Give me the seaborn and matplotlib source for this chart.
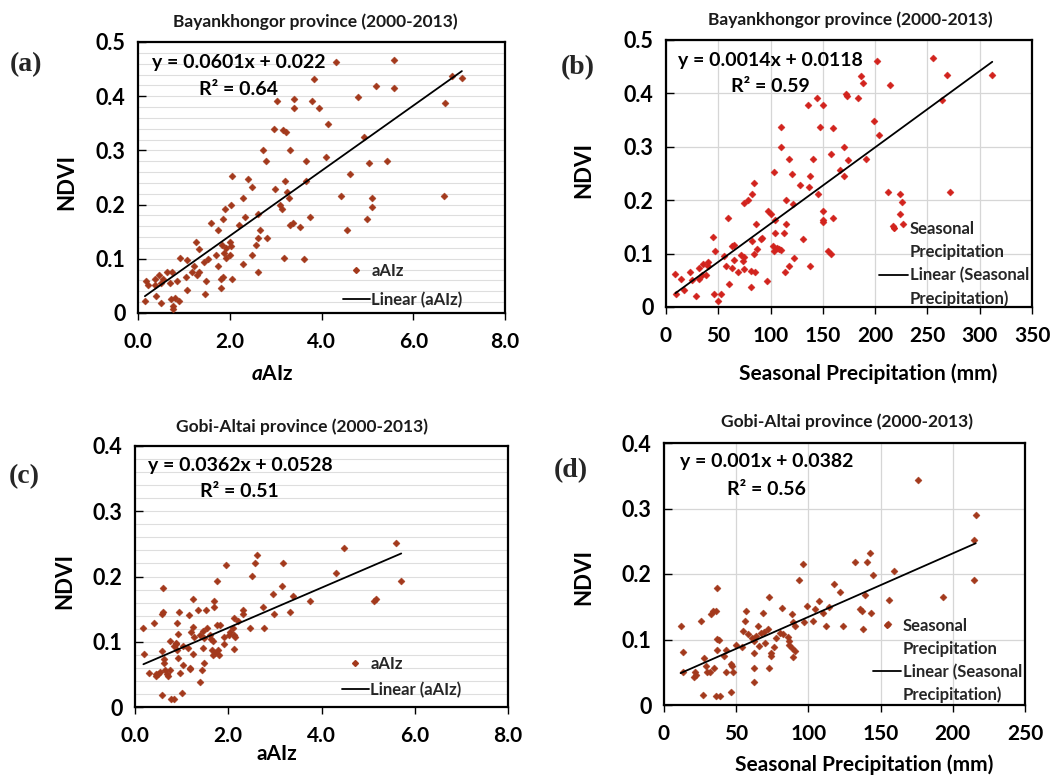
import numpy as np
import pandas as pd
import matplotlib
matplotlib.use("Agg")
import matplotlib.pyplot as plt
import seaborn as sns
from matplotlib.lines import Line2D
from matplotlib.ticker import MultipleLocator, FuncFormatter

# ---------------- data ----------------
# (a) Bayankhongor: aAIz vs NDVI
a_x = [4.32, 5.59, 3.83, 6.85, 7.06, 5.18, 5.59, 4.79, 3.02, 3.39, 3.39, 3.79, 3.94, 6.69,
       4.14, 2.96, 3.17, 3.23, 4.93, 2.73, 3.31, 4.09, 2.80, 3.67, 5.03, 5.43, 4.62, 2.05,
       2.39, 3.21, 3.67, 2.48, 2.99, 3.25, 2.29, 3.29, 4.42, 5.09, 6.66, 2.03, 3.09, 3.14,
       5.11, 1.89, 2.61, 2.34, 3.76, 1.85, 4.99, 1.59, 2.20, 3.31, 3.37, 3.54, 1.74, 2.65,
       4.56, 2.82, 2.61, 1.83, 2.58, 1.27, 2.01, 1.92, 2.03, 1.34, 1.88, 2.00, 1.69, 2.48,
       1.91, 3.19, 3.61, 0.91, 1.07, 1.52, 1.44, 2.29, 1.74, 1.23, 1.18, 1.34, 1.28, 1.04,
       1.85, 1.82, 2.61, 1.49, 2.05, 0.85, 0.75, 0.63, 0.46, 0.38, 0.55, 0.50, 0.69, 0.17,
       0.21, 0.36, 1.06, 1.82, 1.45, 0.39, 0.15, 0.50, 0.73, 0.81, 0.89, 0.77, 0.76]
a_y = [0.463, 0.466, 0.431, 0.437, 0.434, 0.419, 0.415, 0.399, 0.391, 0.395, 0.379, 0.391,
       0.379, 0.387, 0.348, 0.339, 0.337, 0.334, 0.325, 0.300, 0.300, 0.288, 0.280, 0.280,
       0.276, 0.280, 0.256, 0.253, 0.247, 0.244, 0.244, 0.232, 0.228, 0.223, 0.212, 0.212,
       0.216, 0.212, 0.216, 0.200, 0.200, 0.192, 0.196, 0.192, 0.182, 0.178, 0.178, 0.174,
       0.174, 0.166, 0.162, 0.162, 0.166, 0.158, 0.154, 0.154, 0.154, 0.138, 0.138, 0.126,
       0.126, 0.131, 0.131, 0.120, 0.123, 0.118, 0.110, 0.107, 0.107, 0.107, 0.101, 0.102,
       0.099, 0.102, 0.097, 0.099, 0.094, 0.090, 0.087, 0.087, 0.075, 0.075, 0.071, 0.067,
       0.067, 0.063, 0.075, 0.059, 0.063, 0.059, 0.075, 0.075, 0.071, 0.063, 0.063, 0.055,
       0.055, 0.059, 0.051, 0.051, 0.043, 0.047, 0.035, 0.031, 0.023, 0.019, 0.025, 0.027,
       0.023, 0.012, 0.008]

# (b) Bayankhongor: seasonal precipitation vs NDVI
b_x = [201.7, 255.7, 186, 188, 269, 312, 214, 172, 173, 184, 144.5, 136, 150.5, 264, 199,
       109.6, 147.6, 159.5, 203.6, 109.6, 170, 157.6, 118, 141, 174, 191, 166, 103, 170,
       120.5, 138, 84, 128, 137, 82, 145, 212, 224, 272, 78, 75, 115, 121.8, 226, 98, 100,
       150, 224, 59, 104, 160, 150, 150.5, 86, 115, 217, 227, 113, 104, 45, 63, 65, 91, 92,
       131, 82.5, 102.6, 106, 109.6, 107.7, 103, 87, 47, 154.7, 157.6, 84, 72, 75, 55,
       122.4, 64.6, 74, 40, 35, 138, 118, 57.5, 75, 63, 40, 32, 69, 81, 85, 23, 113.5,
       34.5, 38, 9, 14, 32, 25, 97, 60, 81, 17, 10, 46, 53, 28.5, 50]
b_y = [0.461, 0.466, 0.432, 0.420, 0.435, 0.435, 0.415, 0.399, 0.396, 0.392, 0.392, 0.379,
       0.379, 0.387, 0.348, 0.338, 0.338, 0.335, 0.323, 0.299, 0.299, 0.286, 0.278, 0.278,
       0.275, 0.278, 0.257, 0.252, 0.245, 0.249, 0.245, 0.232, 0.228, 0.224, 0.211, 0.212,
       0.215, 0.212, 0.215, 0.201, 0.195, 0.200, 0.192, 0.196, 0.180, 0.175, 0.180, 0.175,
       0.167, 0.163, 0.167, 0.160, 0.163, 0.155, 0.155, 0.151, 0.155, 0.139, 0.139, 0.131,
       0.115, 0.116, 0.127, 0.130, 0.127, 0.124, 0.115, 0.111, 0.107, 0.108, 0.104, 0.108,
       0.104, 0.104, 0.100, 0.100, 0.098, 0.094, 0.096, 0.091, 0.088, 0.087, 0.084, 0.080,
       0.076, 0.076, 0.076, 0.072, 0.073, 0.076, 0.073, 0.066, 0.068, 0.065, 0.065, 0.065,
       0.059, 0.060, 0.061, 0.053, 0.053, 0.051, 0.048, 0.044, 0.037, 0.031, 0.025, 0.025,
       0.025, 0.021, 0.011]

# (c) Gobi-Altai: aAIz vs NDVI
c_x = [5.59, 4.49, 2.61, 2.57, 3.18, 1.95, 2.52, 4.31, 5.71, 1.76, 3.15, 0.59, 2.96, 3.39,
       1.25, 1.69, 3.75, 5.12, 5.17, 1.70, 2.75, 1.35, 1.53, 2.32, 2.31, 0.95, 1.16, 0.59,
       0.58, 3.32, 2.99, 2.13, 2.21, 0.40, 0.90, 1.76, 1.83, 1.25, 2.46, 2.76, 0.18, 1.55,
       1.46, 2.10, 2.04, 0.92, 1.20, 1.40, 1.61, 2.01, 2.13, 2.15, 1.91, 1.27, 1.64, 1.48,
       0.75, 0.87, 1.67, 1.91, 1.14, 1.45, 0.89, 0.84, 1.04, 1.65, 1.78, 2.13, 0.57, 1.72,
       1.80, 1.68, 1.25, 0.20, 0.90, 0.92, 0.62, 0.63, 1.49, 1.02, 1.17, 1.17, 1.43, 0.65,
       0.75, 0.29, 0.53, 0.44, 0.97, 0.68, 0.50, 0.70, 0.44, 1.39, 0.58, 1.01, 0.78, 0.83]
c_y = [0.252, 0.244, 0.233, 0.221, 0.221, 0.218, 0.201, 0.205, 0.193, 0.193, 0.185, 0.182,
       0.173, 0.170, 0.165, 0.162, 0.162, 0.162, 0.165, 0.153, 0.153, 0.149, 0.149, 0.149,
       0.142, 0.145, 0.141, 0.145, 0.142, 0.145, 0.142, 0.136, 0.132, 0.128, 0.128, 0.126,
       0.125, 0.122, 0.121, 0.121, 0.121, 0.121, 0.117, 0.121, 0.115, 0.112, 0.115, 0.111,
       0.111, 0.111, 0.110, 0.107, 0.107, 0.108, 0.104, 0.105, 0.101, 0.098, 0.101, 0.096,
       0.090, 0.090, 0.096, 0.093, 0.093, 0.087, 0.087, 0.089, 0.086, 0.082, 0.080, 0.079,
       0.081, 0.081, 0.087, 0.075, 0.074, 0.068, 0.068, 0.065, 0.060, 0.058, 0.057, 0.057,
       0.057, 0.052, 0.054, 0.051, 0.052, 0.051, 0.050, 0.048, 0.047, 0.038, 0.019, 0.021,
       0.013, 0.013]

# (d) Gobi-Altai: seasonal precipitation vs NDVI
d_x = [175.7, 215.9, 214.7, 142.8, 132, 140.5, 96.6, 144.4, 159.6, 93.2, 215, 36.4, 118,
       122, 139.5, 193, 72.9, 107.5, 156, 114, 98.7, 104.5, 82, 135.6, 137, 34, 35.7, 32.5,
       56.5, 68.5, 88.6, 109.8, 143.4, 25.6, 56, 103, 89.3, 65, 91, 112.3, 123.8, 96.9,
       11.5, 137.7, 154.8, 72.2, 69, 55, 58, 67, 82.6, 80, 86, 64, 36.7, 38.3, 61, 49.6,
       65.5, 77.7, 86.7, 86.7, 62, 70, 42.9, 36.4, 54, 75.9, 88.8, 91, 62.5, 74, 74.3,
       41.5, 13.4, 89.3, 27.7, 46.4, 47.3, 29.3, 34.4, 62.3, 72.9, 13, 31.6, 42.9, 47.7,
       21.2, 22, 21, 29.5, 62, 27.2, 46.1, 35.7, 39]
d_y = [0.343, 0.290, 0.252, 0.232, 0.219, 0.219, 0.216, 0.199, 0.204, 0.191, 0.191, 0.179,
       0.184, 0.172, 0.168, 0.165, 0.165, 0.159, 0.160, 0.150, 0.151, 0.147, 0.148, 0.147,
       0.144, 0.143, 0.144, 0.139, 0.143, 0.140, 0.139, 0.140, 0.140, 0.128, 0.128, 0.128,
       0.126, 0.120, 0.120, 0.120, 0.120, 0.126, 0.120, 0.116, 0.124, 0.116, 0.111, 0.113,
       0.109, 0.110, 0.109, 0.110, 0.104, 0.106, 0.101, 0.100, 0.103, 0.092, 0.090, 0.103,
       0.098, 0.092, 0.097, 0.095, 0.084, 0.084, 0.088, 0.088, 0.087, 0.083, 0.080, 0.079,
       0.075, 0.075, 0.081, 0.073, 0.072, 0.063, 0.059, 0.059, 0.056, 0.057, 0.056, 0.051,
       0.051, 0.051, 0.051, 0.051, 0.046, 0.043, 0.050, 0.035, 0.016, 0.020, 0.013, 0.013]

# trend lines (slope, intercept) as drawn, and the printed equations
trend_slope = [0.0601, 0.00143, 0.0307, 0.00097]
trend_intercept = [0.022, 0.013, 0.060, 0.0375]
equations = ["y = 0.0601x + 0.022", "y = 0.0014x + 0.0118",
             "y = 0.0362x + 0.0528", "y = 0.001x + 0.0382"]
r2_texts = ["R² = 0.64", "R² = 0.59", "R² = 0.51", "R² = 0.56"]
titles = ["Bayankhongor province (2000-2013)", "Bayankhongor province (2000-2013)",
          "Gobi-Altai province (2000-2013)", "Gobi-Altai province (2000-2013)"]
panel_tags = ["(a)", "(b)", "(c)", "(d)"]
x_labels = [r"$\mathit{a}$AIz", "Seasonal Precipitation (mm)", "aAIz", "Seasonal Precipitation (mm)"]
series_names = ["aAIz", "Seasonal Precipitation", "aAIz", "Seasonal Precipitation"]
x_ticks = [[0, 2, 4, 6, 8], [0, 50, 100, 150, 200, 250, 300, 350],
           [0, 2, 4, 6, 8], [0, 50, 100, 150, 200, 250]]
y_tops = [0.5, 0.5, 0.4, 0.4]

# ---------------- style ----------------
sns.set_style("white")
plt.rcParams["font.family"] = ["Lato", "DejaVu Sans"]
plt.rcParams["font.weight"] = "bold"
plt.rcParams["axes.labelweight"] = "bold"
plt.rcParams["mathtext.fontset"] = "custom"
plt.rcParams["mathtext.it"] = "Lato:italic:bold"
plt.rcParams["mathtext.rm"] = "Lato:bold"
plt.rcParams["mathtext.bf"] = "Lato:bold"

W, H = 1062, 778
fig = plt.figure(figsize=(W / 100, H / 100), dpi=100)

# pixel boxes: left, right, top, bottom
boxes = [(138, 505, 42, 313), (666, 1032, 40, 307), (135, 508, 446, 707), (664, 1025, 443, 705)]
colors = ["#A3391C", "#D2231D", "#A3391C", "#A3391C"]
eq_pos = [(0.275, 0.926, 0.823), (0.284, 0.925, 0.824), (0.281, 0.927, 0.824), (0.285, 0.931, 0.824)]
title_pos = [(0.482, 1.074), (0.503, 1.075), (0.448, 1.073), (0.507, 1.08)]
tag_pos = [(26, 65), (578, 68), (24, 477), (571, 471)]
ylab_pos = [(-0.166, 0.483), (-0.197, 0.513), (-0.161, 0.483), (-0.194, 0.489)]
xlab_pos = [(0.365, -0.19), (0.552, -0.21), (0.38, -0.142), (0.554, -0.19)]
leg_pos = [(0.559, 0.018), (0.582, 0.0), (0.555, 0.034), (0.579, 0.006)]
leg_hl = [1.6, 1.75, 1.6, 1.7]
leg_sp = [0.78, 0.42, 0.6, 0.42]

datasets = [(a_x, a_y), (b_x, b_y), (c_x, c_y), (d_x, d_y)]

for i, (xs, ys) in enumerate(datasets):
    l, r, t, b = boxes[i]
    ax = fig.add_axes([l / W, 1 - b / H, (r - l) / W, (b - t) / H])
    df = pd.DataFrame({"x": xs, "y": ys})
    col = colors[i]

    # grid
    if i in (0, 2):
        ax.yaxis.set_minor_locator(MultipleLocator(0.02))
        ax.grid(which="both", axis="y", color="#dedede", lw=0.8)
    else:
        ax.grid(which="major", axis="both", color="#d6d6d6", lw=0.9)
    ax.set_axisbelow(True)

    sns.scatterplot(data=df, x="x", y="y", marker="D", s=13, color=col,
                    edgecolor=col, linewidth=0.3, ax=ax, zorder=3)
    xl = np.array([df["x"].min(), df["x"].max()])
    line_df = pd.DataFrame({"x": xl, "y": trend_slope[i] * xl + trend_intercept[i]})
    sns.lineplot(data=line_df, x="x", y="y", color="black", lw=1.3, ax=ax, zorder=4)

    ax.set_xlim(x_ticks[i][0], x_ticks[i][-1])
    ax.set_ylim(0, y_tops[i])
    ax.set_xticks(x_ticks[i])
    ax.set_yticks(np.arange(0, y_tops[i] + 0.001, 0.1))
    if i in (0, 2):
        ax.xaxis.set_major_formatter(FuncFormatter(lambda v, p: f"{v:.1f}"))
    else:
        ax.xaxis.set_major_formatter(FuncFormatter(lambda v, p: f"{v:.0f}"))
    ax.yaxis.set_major_formatter(FuncFormatter(lambda v, p: "0" if abs(v) < 1e-9 else f"{v:.1f}"))
    ax.tick_params(axis="x", which="major", bottom=True, direction="out", length=5,
                   width=1, pad=9, labelsize=15, colors="black")
    ax.tick_params(axis="y", which="major", left=True, direction="in", length=6,
                   width=1, pad=9, labelsize=15.5, colors="black")
    ax.tick_params(which="minor", length=0)
    for s in ax.spines.values():
        s.set_color("black")
        s.set_linewidth(1.6)

    ax.set_ylabel("NDVI", fontsize=16, color="black")
    ax.yaxis.set_label_coords(*ylab_pos[i])
    ax.set_xlabel(x_labels[i], fontsize=15, color="black")
    ax.xaxis.set_label_coords(*xlab_pos[i])

    ex, ey1, ey2 = eq_pos[i]
    ax.text(ex, ey1, equations[i], transform=ax.transAxes, ha="center", va="center",
            fontsize=14, color="black", zorder=5)
    ax.text(ex, ey2, r2_texts[i], transform=ax.transAxes, ha="center", va="center",
            fontsize=14, color="black", zorder=5)
    ax.text(title_pos[i][0], title_pos[i][1], titles[i], transform=ax.transAxes,
            ha="center", va="center", fontsize=12.5, color="#1a1a1a")

    mk = Line2D([], [], marker="D", color=col, linestyle="none", markersize=3.0)
    ln = Line2D([], [], color="black", lw=1.3)
    blank = Line2D([], [], linestyle="none")
    if i in (0, 2):
        handles = [mk, ln]
        labels = [series_names[i], f"Linear ({series_names[i]})"]
    else:
        handles = [mk, blank, ln, blank]
        labels = ["Seasonal", "Precipitation", "Linear (Seasonal", "Precipitation)"]
    ax.legend(handles, labels, frameon=False, loc="lower left",
              bbox_to_anchor=leg_pos[i], borderpad=0, borderaxespad=0,
              handlelength=leg_hl[i], handletextpad=0.1, labelspacing=leg_sp[i],
              fontsize=12, numpoints=1)

    fig.text(tag_pos[i][0] / W, 1 - tag_pos[i][1] / H, panel_tags[i], ha="center",
             va="center", fontsize=20, fontweight="bold",
             family=["Liberation Serif", "DejaVu Serif"])

fig.savefig("out.png", dpi=100)
